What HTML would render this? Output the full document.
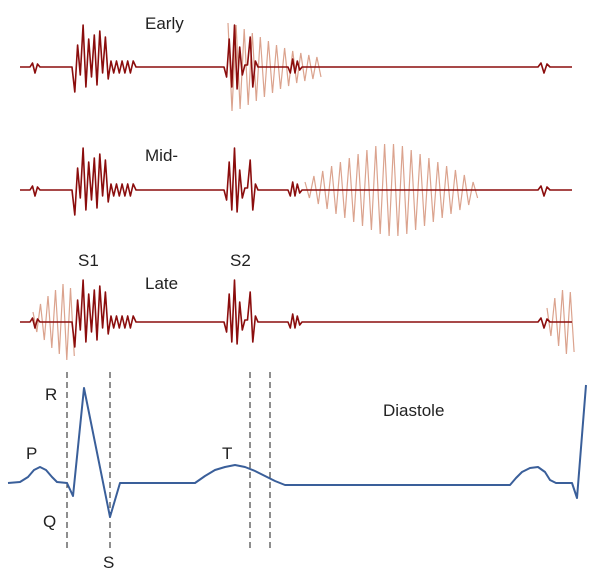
<!DOCTYPE html>
<html><head><meta charset="utf-8"><style>
body{margin:0;background:#fff}
svg{display:block}
text{font-family:"Liberation Sans",sans-serif;font-size:17px;fill:#222}
</style></head><body>
<svg id="c" width="594" height="569" viewBox="0 0 594 569">
<g id="labels">
<text x="145" y="29">Early</text>
<text x="145" y="161">Mid-</text>
<text x="78" y="266">S1</text>
<text x="230" y="266">S2</text>
<text x="145" y="289">Late</text>
<text x="45" y="400">R</text>
<text x="26" y="459">P</text>
<text x="43" y="527">Q</text>
<text x="103" y="568">S</text>
<text x="222" y="459">T</text>
<text x="383" y="416">Diastole</text>
</g>
</svg>
<script>
// data
const rowBaselines=[67,190,322];
const s1Amps=[0,-25,22,-8,42,-20,28,-10,32,-18,36,-6,30,-12,6,-6,6,-6,6,-6,6,-6,6,0];
const s2Amps=[0,-10,28,-20,42,-22,20,-8,2,2,30,-20,6,0];
const blipAmps=[0,4,-6,3,0];
const smallAmps=[0,-6,8,-6,6,-3,0];
const earlyMurmur=[44,42,38,34,30,26,22,19,16,14,12,10];
const midMurmur=[8,14,19,24,28,32,36,40,44,46,46,44,40,36,32,28,24,20,15,8];
const lateMurmurA=[10,18,26,32,38,34];
const lateMurmurB=[14,24,32,30];
const ecgX=[8,20,28,34,40,46,52,57,67,73,84,110,120,195,205,215,225,235,245,255,265,275,285,510,516,522,530,538,545,550,556,565,572,577,586];
const ecgY=[483,482,477,470,467,470,477,482,483,496,388,517,483,483,476,470,467,465,467,471,476,481,485,485,478,472,468,467,472,480,483,483,483,498,385];
const dashX=[67,110,250,270];

const svg=document.getElementById('c');
const NS='http://www.w3.org/2000/svg';
function mk(tag,attrs){const e=document.createElementNS(NS,tag);for(const k in attrs)e.setAttribute(k,attrs[k]);return e;}
function spikes(x0,x1,amps,by){const st=(x1-x0)/(amps.length-1);return amps.map((a,i)=>`${(x0+i*st).toFixed(1)},${(by-a).toFixed(1)}`).join(' ');}
function murmur(x0,x1,amps,by){const st=(x1-x0)/amps.length;let pts=[];amps.forEach((a,i)=>{pts.push(`${(x0+i*st).toFixed(1)},${by-a}`);pts.push(`${(x0+(i+0.5)*st).toFixed(1)},${by+a}`);});return pts.join(' ');}

const murmurs=[[[228,325,earlyMurmur]],[[305,482,midMurmur]],[[33,78,lateMurmurA],[547,578,lateMurmurB]]];
const names=['early','mid','late'];
rowBaselines.forEach((by,r)=>{
  const g=mk('g',{});
  
  
  svg.appendChild(g);
  murmurs[r].forEach(m=>{
    const p=mk('polyline',{points:murmur(m[0],m[1],m[2],by),fill:'none',stroke:'#dba38e','stroke-width':1.2});
    
    
    g.appendChild(p);
  });
  const pts=['20,'+by,spikes(30,40,blipAmps,by),spikes(72,136,s1Amps,by),spikes(224,258,s2Amps,by),spikes(288,302,smallAmps,by),spikes(538,550,blipAmps,by),'572,'+by].join(' ');
  const l=mk('polyline',{points:pts,fill:'none',stroke:'#8b0d0d','stroke-width':1.6,'stroke-linejoin':'round'});
  
  
  g.appendChild(l);
});
dashX.forEach(x=>{
  const d=mk('line',{x1:x,x2:x,y1:372,y2:548,stroke:'#444','stroke-width':1.2,'stroke-dasharray':'6,4'});
  
  
  svg.appendChild(d);
});
const ecg=mk('polyline',{points:ecgX.map((x,i)=>x+','+ecgY[i]).join(' '),fill:'none',stroke:'#3a5f9a','stroke-width':2,'stroke-linejoin':'round'});


svg.appendChild(ecg);
</script>
</body></html>
